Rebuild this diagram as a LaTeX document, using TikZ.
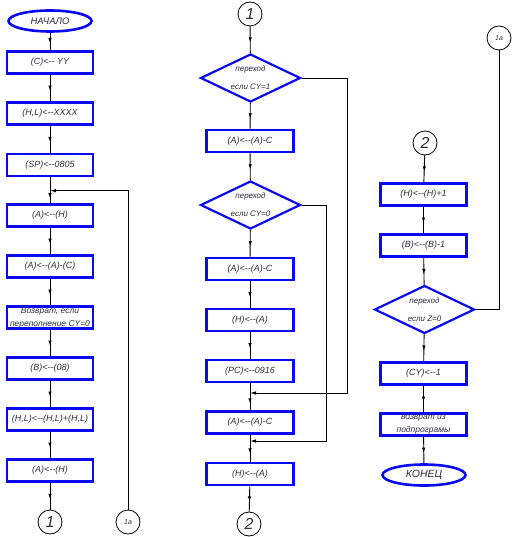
\documentclass[tikz,border=0pt]{standalone}
\usepackage{fontspec}
\newfontfamily\cad{Liberation Sans}
\usetikzlibrary{shapes.geometric,arrows.meta,decorations.markings}
\definecolor{cadblue}{RGB}{10,10,240}
\definecolor{txt}{RGB}{45,45,60}
\newcommand{\la}{<-{}-}
\tikzset{
  every node/.style={font=\cad\itshape\fontsize{9}{9}\selectfont, text=txt},
  box/.style={draw=cadblue, line width=2.6bp, minimum width=86bp, minimum height=22bp, inner sep=0pt, align=center},
  dec/.style={diamond, draw=cadblue, line width=2.2bp, minimum width=100bp, minimum height=48bp, inner sep=0pt},
  dectext/.style={inner sep=0pt, align=center, font=\cad\itshape\fontsize{8}{18}\selectfont},
  term/.style={ellipse, draw=cadblue, line width=2.6bp, minimum width=83bp, minimum height=21bp, inner sep=0pt},
  conn/.style={circle, draw=black, line width=0.8bp, minimum size=24bp, inner sep=0pt, font=\cad\itshape\fontsize{16}{16}\selectfont},
  smallconn/.style={conn, font=\cad\itshape\fontsize{7}{7}\selectfont},
  flow/.style={line width=0.9bp, postaction={decorate}, decoration={markings, mark=at position 0.6 with {\arrow{Latex[length=5bp,width=3.5bp]}}}},
  plain/.style={line width=0.9bp},
  joinarrow/.style={line width=0.9bp, -{Latex[length=6bp,width=3.5bp]}},
}
\begin{document}
\begin{tikzpicture}[x=1bp,y=-1bp]
\useasboundingbox (0,0) rectangle (514,537);
% column 1
\node[term, font=\cad\itshape\fontsize{9.5}{10}\selectfont] (st) at (50,21) {НАЧАЛО};
\node[box] (a1) at (50,62.5) {(C)\la\ YY};
\node[box] (a2) at (50,113.5) {(H,L)\la XXXX};
\node[box] (a3) at (50,165) {(SP)\la 0805};
\coordinate (m1) at (50,190.7);
\node[box] (a4) at (50,215.5) {(A)\la(H)};
\node[box] (a5) at (50,266.5) {(A)\la(A)-(C)};
\node[box, font=\cad\itshape\fontsize{8.5}{13}\selectfont] (a6) at (50,317.5) {Возврат, если\\переполнение CY=0};
\node[box] (a7) at (50,368.5) {(B)\la(08)};
\node[box] (a8) at (50,419.5) {(H,L)\la(H,L)+(H,L)};
\node[box] (a9) at (50,470.5) {(A)\la(H)};
\node[conn] (k1) at (50,522) {1};
\node[smallconn] (k1a) at (128,522) {1a};
\draw[flow] (st) -- (a1);
\draw[flow] (a1) -- (a2);
\draw[flow] (a2) -- (a3);
\draw[plain] (a3) -- (m1);
\draw[flow] (m1) -- (a4);
\draw[flow] (a4) -- (a5);
\draw[flow] (a5) -- (a6);
\draw[flow] (a6) -- (a7);
\draw[flow] (a7) -- (a8);
\draw[flow] (a8) -- (a9);
\draw[flow] (a9) -- (k1);
\draw[joinarrow] (k1a.north) |- (m1);
% column 2
\node[conn] (k2) at (250,14) {1};
\node[dec] (d1) at (250.5,78) {};
\node[dectext] (t1) at (d1.center) {переход\\если CY=1};
\node[box, minimum width=87bp] (b1) at (250,141) {(A)\la(A)-C};
\node[dec] (d2) at (250.5,205) {};
\node[dectext] (t2) at (d2.center) {переход\\если CY=0};
\node[box, minimum width=87bp] (b2) at (250,269) {(A)\la(A)-C};
\node[box, minimum width=87bp] (b3) at (250,320) {(H)\la(A)};
\node[box, minimum width=87bp] (b4) at (250,371) {(PC)\la 0916};
\coordinate (m2) at (250,393);
\node[box, minimum width=87bp] (b5) at (250,422.5) {(A)\la(A)-C};
\coordinate (m3) at (250,441);
\node[box, minimum width=87bp] (b6) at (250,474) {(H)\la(A)};
\node[conn] (k3) at (249,524) {2};
\coordinate (r1) at (347,78);
\coordinate (r2) at (326,205);
\draw[flow] (k2) -- (d1);
\draw[flow] (d1) -- (b1);
\draw[flow] (b1) -- (d2);
\draw[flow] (d2) -- (b2);
\draw[flow] (b2) -- (b3);
\draw[flow] (b3) -- (b4);
\draw[plain] (b4) -- (m2);
\draw[flow] (m2) -- (b5);
\draw[plain] (b5) -- (m3);
\draw[flow] (m3) -- (b6);
\draw[flow] (b6) -- (k3);
\draw[joinarrow] (d1.east) -- (r1) |- (m2);
\draw[joinarrow] (d2.east) -- (r2) |- (m3);
% column 3
\node[smallconn] (k4) at (499,38) {1a};
\node[conn] (k5) at (425,143) {2};
\node[box] (c1) at (423.5,194.5) {(H)\la(H)+1};
\node[box] (c2) at (423.5,245.5) {(B)\la(B)-1};
\node[dec] (d3) at (424.5,309.5) {};
\node[dectext] (t3) at (d3.center) {переход\\если Z=0};
\node[box] (c3) at (423.5,373.5) {(CY)\la 1};
\node[box, font=\cad\itshape\fontsize{8.5}{13}\selectfont] (c4) at (423.5,424.5) {возврат из\\подпрограмы};
\node[term, font=\cad\itshape\fontsize{10.5}{11}\selectfont] (en) at (424,475) {КОНЕЦ};
\draw[flow] (k5) -- (c1);
\draw[flow] (c1) -- (c2);
\draw[flow] (c2) -- (d3);
\draw[flow] (d3) -- (c3);
\draw[flow] (c3) -- (c4);
\draw[flow] (c4) -- (en);
\draw[plain] (d3.east) -| (k4.south);
\end{tikzpicture}
\end{document}
